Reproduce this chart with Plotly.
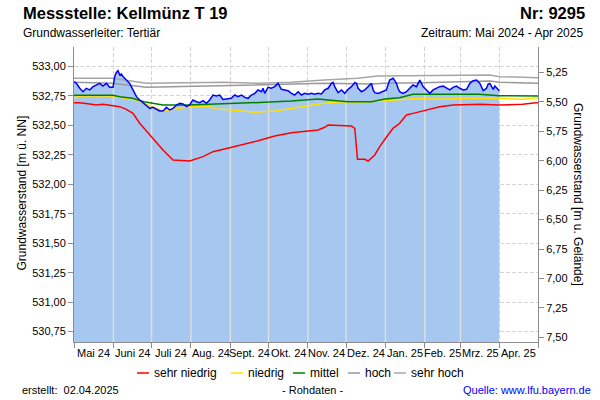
import numpy as np
import plotly.graph_objects as go
from datetime import datetime, timedelta

# ---------------- data ----------------
START = datetime(2024, 5, 1)
END = datetime(2025, 5, 1)
SURFACE = 538.20          # Geländehöhe [m ü. NN] (for the right-hand axis)

MONTH_LABELS = ["Mai 24", "Juni 24", "Juli 24", "Aug. 24", "Sept. 24", "Okt. 24",
                "Nov. 24", "Dez. 24", "Jan. 25", "Feb. 25", "Mrz. 25", "Apr. 25"]
LEFT_TICKS = [530.75, 531.00, 531.25, 531.50, 531.75, 532.00, 532.25, 532.50, 532.75, 533.00]
RIGHT_TICKS = [5.25, 5.50, 5.75, 6.00, 6.25, 6.50, 6.75, 7.00, 7.25, 7.50]

# measured groundwater level (days since 1 May 2024, m ü. NN)
LEVEL_DAYS = [0, 1.9, 4.5, 7.1, 9.7, 12.4, 15, 17.6, 20.2, 22.8,
              25.5, 28.1, 30.7, 32, 33.3, 34.6, 36, 37.3, 38.5, 41.2,
              43.8, 46.4, 49.1, 51.7, 54.3, 57, 59.6, 62.1, 64.8, 67.4,
              70, 72.7, 75.3, 77.9, 80.6, 83.2, 85.7, 88.4, 91, 93.6,
              96.3, 98.9, 101.5, 104.2, 106.7, 109.3, 112, 114.6, 117.2,
              123.8, 126.4, 129, 131.7, 134.3, 136.9, 139.5, 142.2, 144.8, 147.4,
              148.7, 150, 152.6, 155.2, 157.9, 160.5, 161.8, 163.1, 165.7, 168.4,
              171, 173.6, 176.3, 178.9, 181.5, 184.1, 186.7, 189.4, 192, 194.6,
              197.2, 199.9, 202.5, 203.8, 205.1, 207.7, 210.4, 213, 215.6, 218.2,
              220.9, 222.2, 223.5, 226.1, 228.7, 231.4, 234, 235.3, 236.6, 239.3,
              243.1, 245.7, 248.3, 251, 252.3, 253.6, 254.9, 256.2, 258.8, 261.5,
              264.1, 266.7, 269.4, 272, 273.3, 274.6, 277.2, 279.9, 282.5, 285.1,
              287.7, 290.4, 293, 295.6, 298.2, 300.9, 303.5, 306.1, 308.8, 311.4,
              314, 316.6, 319.3, 321.9, 324.5, 325.8, 327.1, 329.8, 331.1, 333.7,
              334.5]
LEVEL = [532.871, 532.857, 532.815, 532.786, 532.815, 532.801, 532.829, 532.843, 532.857, 532.834,
         532.857, 532.823, 532.823, 532.914, 532.950, 532.965, 532.928, 532.936, 532.914, 532.885,
         532.857, 532.801, 532.744, 532.716, 532.693, 532.673, 532.645, 532.653, 532.636, 532.622,
         532.622, 532.653, 532.631, 532.645, 532.673, 532.688, 532.682, 532.659, 532.673, 532.716,
         532.701, 532.693, 532.710, 532.688, 532.716, 532.758, 532.750, 532.758, 532.721,
         532.730, 532.758, 532.744, 532.758, 532.738, 532.730, 532.758, 532.772, 532.801, 532.786,
         532.815, 532.772, 532.823, 532.815, 532.829, 532.857, 532.834, 532.806, 532.801, 532.795,
         532.772, 532.758, 532.786, 532.758, 532.772, 532.764, 532.772, 532.764, 532.772, 532.767,
         532.801, 532.815, 532.857, 532.866, 532.829, 532.778, 532.801, 532.772, 532.806, 532.829,
         532.863, 532.857, 532.815, 532.786, 532.801, 532.829, 532.857, 532.801, 532.778, 532.772,
         532.786, 532.801, 532.885, 532.900, 532.880, 532.857, 532.815, 532.786, 532.772, 532.786,
         532.815, 532.843, 532.829, 532.885, 532.857, 532.829, 532.801, 532.772, 532.801, 532.815,
         532.829, 532.834, 532.815, 532.801, 532.823, 532.834, 532.815, 532.801, 532.806, 532.857,
         532.880, 532.885, 532.857, 532.795, 532.815, 532.851, 532.857, 532.806, 532.834, 532.801,
         532.795]

# reference curves
SEHR_NIEDRIG_DAYS = [0, 4.5, 12.4, 17.6, 22.8, 30.7, 36, 41.2, 46.4, 51.7, 59.6, 64.8, 70, 77.9,
                     91, 101.5, 109.3, 122.5, 131.7, 144.8, 157.9, 171, 192, 197.2, 199.9, 218.2,
                     220.9, 223, 228.7, 231.4, 236.6, 240.5, 245.7, 251, 256.2, 261.5, 266.7,
                     277.2, 287.7, 298.2, 319.3, 334.5, 352.9, 363.4, 365]
SEHR_NIEDRIG = [532.693, 532.693, 532.682, 532.673, 532.679, 532.665, 532.659, 532.636, 532.602,
                532.518, 532.418, 532.348, 532.291, 532.206, 532.198, 532.235, 532.277, 532.311,
                532.334, 532.370, 532.410, 532.438, 532.461, 532.484, 532.503, 532.495, 532.475,
                532.212, 532.212, 532.198, 532.249, 532.320, 532.399, 532.475, 532.518, 532.588,
                532.602, 532.631, 532.659, 532.673, 532.679, 532.673, 532.679, 532.693, 532.693]

NIEDRIG_DAYS = [0, 4.5, 30, 49, 60, 70, 83, 91, 107, 112, 120, 134, 142, 158, 171, 184, 197, 210,
                223.5, 244.5, 256, 266.7, 293, 308.8, 334.5, 353, 365]
NIEDRIG = [532.735, 532.750, 532.750, 532.716, 532.665, 532.622, 532.645, 532.659, 532.659,
           532.639, 532.636, 532.622, 532.611, 532.622, 532.645, 532.665, 532.688, 532.701,
           532.696, 532.710, 532.716, 532.727, 532.724, 532.730, 532.730, 532.721, 532.735]

MITTEL_DAYS = [0, 30.7, 36, 46, 55, 62, 70, 90, 118, 150, 171, 192, 200, 215.6, 234, 244.5,
               256, 266.7, 319, 334.5, 365]
MITTEL = [532.755, 532.755, 532.744, 532.730, 532.701, 532.688, 532.673, 532.673, 532.682,
          532.696, 532.707, 532.724, 532.716, 532.701, 532.701, 532.724, 532.735, 532.764,
          532.764, 532.752, 532.750]

HOCH_DAYS = [0, 30, 57, 118, 171, 197, 234, 244, 274, 327, 335, 365]
HOCH = [532.866, 532.857, 532.823, 532.840, 532.851, 532.857, 532.851, 532.857, 532.863,
        532.877, 532.866, 532.857]

SEHR_HOCH_DAYS = [0, 30, 57, 118, 145, 171, 197, 223, 239, 275, 327, 335, 365]
SEHR_HOCH = [532.900, 532.900, 532.857, 532.866, 532.857, 532.866, 532.885, 532.900, 532.919,
             532.922, 532.928, 532.914, 532.905]

# ---------------- geometry / style ----------------
W, H = 600, 400
PL, PR, PT, PB = 74, 538, 47, 342          # plot box in pixels
Y_TOP = 533.0 + (66.5 - PT) / 117.8
Y_BOTTOM = 533.0 - (PB - 66.5) / 117.8
FONT = "Liberation Sans, Arial, sans-serif"
AXIS = "#8C8C8C"
GRID = "#D4D4D4"


def xp(px):
    return (px - PL) / (PR - PL)


def yp(py):
    return (PB - py) / (PB - PT)


def to_dates(days):
    return [START + timedelta(days=float(d)) for d in days]


month_starts = []
d = START
while d <= END:
    month_starts.append(d)
    d = datetime(d.year + (d.month // 12), d.month % 12 + 1, 1)
month_mids = [a + (b - a) / 2 for a, b in zip(month_starts[:-1], month_starts[1:])]

fig = go.Figure()

# filled area under the measured level
fig.add_trace(go.Scatter(x=to_dates(LEVEL_DAYS), y=LEVEL, mode="lines",
                         line=dict(width=0, color="#A6C8F0"), fill="tozeroy",
                         fillcolor="#A6C8F0", hoverinfo="skip", showlegend=False))

# light month separators inside the filled area
sep_x, sep_y = [], []
lvl_days = np.array(LEVEL_DAYS, dtype=float)
for m in month_starts[1:-1]:
    md = (m - START).total_seconds() / 86400.0
    if md <= lvl_days[-1]:
        top = float(np.interp(md, lvl_days, LEVEL))
        sep_x += [m, m, None]
        sep_y += [Y_BOTTOM, top, None]
fig.add_trace(go.Scatter(x=sep_x, y=sep_y, mode="lines",
                         line=dict(color="#DDDDDD", width=1.5),
                         hoverinfo="skip", showlegend=False))

refs = [
    ("sehr niedrig", SEHR_NIEDRIG_DAYS, SEHR_NIEDRIG, "#FF0000"),
    ("niedrig", NIEDRIG_DAYS, NIEDRIG, "#FFE000"),
    ("mittel", MITTEL_DAYS, MITTEL, "#008000"),
    ("hoch", HOCH_DAYS, HOCH, "#999999"),
    ("sehr hoch", SEHR_HOCH_DAYS, SEHR_HOCH, "#A6A6A6"),
]
for name, dd, vv, col in refs:
    fig.add_trace(go.Scatter(x=to_dates(dd), y=vv, mode="lines", name=name,
                             line=dict(color=col, width=1.5),
                             showlegend=False))

fig.add_trace(go.Scatter(x=to_dates(LEVEL_DAYS), y=LEVEL, mode="lines",
                         name="Grundwasserstand", line=dict(color="#0000FF", width=1.5),
                         showlegend=False))

# invisible trace to activate the right-hand axis (depth below ground)
fig.add_trace(go.Scatter(x=to_dates(LEVEL_DAYS[:1]), y=[SURFACE - LEVEL[0]], yaxis="y2",
                         mode="markers", marker=dict(opacity=0), hoverinfo="skip",
                         showlegend=False))

fig.update_layout(
    width=W, height=H,
    margin=dict(l=PL, r=W - PR, t=PT, b=H - PB, pad=0, autoexpand=False),
    paper_bgcolor="white", plot_bgcolor="white",
    separators=",.",
    font=dict(family=FONT, size=11, color="black"),
    showlegend=False,
    xaxis=dict(type="date", range=[START, END], tickmode="array", tickvals=month_starts,
               showticklabels=False, ticks="outside", ticklen=5, tickcolor=AXIS,
               showline=True, linecolor=AXIS, linewidth=1,
               showgrid=True, gridcolor=GRID, griddash="4px,2px", gridwidth=1,
               zeroline=False, fixedrange=True),
    yaxis=dict(range=[Y_BOTTOM, Y_TOP], tickmode="array", tickvals=LEFT_TICKS,
               tickformat=".2f", ticks="outside", ticklen=5, tickcolor=AXIS,
               tickfont=dict(size=11, color="black"),
               showline=True, linecolor=AXIS, linewidth=1,
               showgrid=True, gridcolor=GRID, griddash="4px,2px", gridwidth=1,
               zeroline=False),
    yaxis2=dict(overlaying="y", side="right", range=[SURFACE - Y_BOTTOM, SURFACE - Y_TOP],
                tickmode="array", tickvals=RIGHT_TICKS, tickformat=".2f",
                ticks="outside", ticklen=5, tickcolor=AXIS,
                tickfont=dict(size=11, color="black"),
                showline=True, linecolor=AXIS, linewidth=1,
                showgrid=False, zeroline=False),
)

ann = []
# month labels centred in each month
for m, lab in zip(month_mids, MONTH_LABELS):
    ann.append(dict(x=m, y=yp(353), xref="x", yref="paper", text=lab, showarrow=False,
                    xanchor="center", yanchor="middle", font=dict(size=11, family=FONT)))

# header
ann += [
    dict(x=xp(21), y=yp(13), text="<b>Messstelle: Kellmünz T 19</b>", xanchor="left",
         font=dict(size=16.5)),
    dict(x=xp(21), y=yp(33), text="Grundwasserleiter: Tertiär", xanchor="left",
         font=dict(size=12)),
    dict(x=xp(587), y=yp(13), text="<b>Nr: 9295</b>", xanchor="right", font=dict(size=16.5)),
    dict(x=xp(585), y=yp(33), text="Zeitraum: Mai 2024 - Apr 2025", xanchor="right",
         font=dict(size=12)),
    # axis titles
    dict(x=xp(21.5), y=yp(193), text="Grundwasserstand [m ü. NN]", textangle=-90,
         xanchor="center", font=dict(size=12)),
    dict(x=xp(578), y=yp(194), text="Grundwasserstand [m u. Gelände]", textangle=90,
         xanchor="center", font=dict(size=12)),
    # footer
    dict(x=xp(20), y=yp(390), text="erstellt:  02.04.2025", xanchor="left",
         font=dict(size=11)),
    dict(x=xp(312), y=yp(390), text="- Rohdaten -", xanchor="center", font=dict(size=11)),
    dict(x=xp(593), y=yp(390), text="Quelle: www.lfu.bayern.de", xanchor="right",
         font=dict(size=11, color="#0000FF")),
]

# legend (short coloured line + label)
legend_x = [137, 231, 293, 348, 394]
shapes = []
for (name, _, _, col), lx in zip(refs, legend_x):
    shapes.append(dict(type="line", xref="paper", yref="paper",
                       x0=xp(lx), x1=xp(lx + 12), y0=yp(373), y1=yp(373),
                       line=dict(color=col, width=1.5)))
    ann.append(dict(x=xp(lx + 15), y=yp(373), text=name, xanchor="left",
                    font=dict(size=12)))

for a in ann:
    a.setdefault("xref", "paper")
    a.setdefault("yref", "paper")
    a.setdefault("showarrow", False)
    a.setdefault("yanchor", "middle")
    a.setdefault("font", {})
    a["font"].setdefault("family", FONT)
    a["font"].setdefault("color", "black")
fig.update_layout(annotations=ann, shapes=shapes)

fig.write_html("out.html",
               config={"displayModeBar": False, "staticPlot": True},
               post_script="document.body.style.margin='0';document.body.style.overflow='hidden';")
